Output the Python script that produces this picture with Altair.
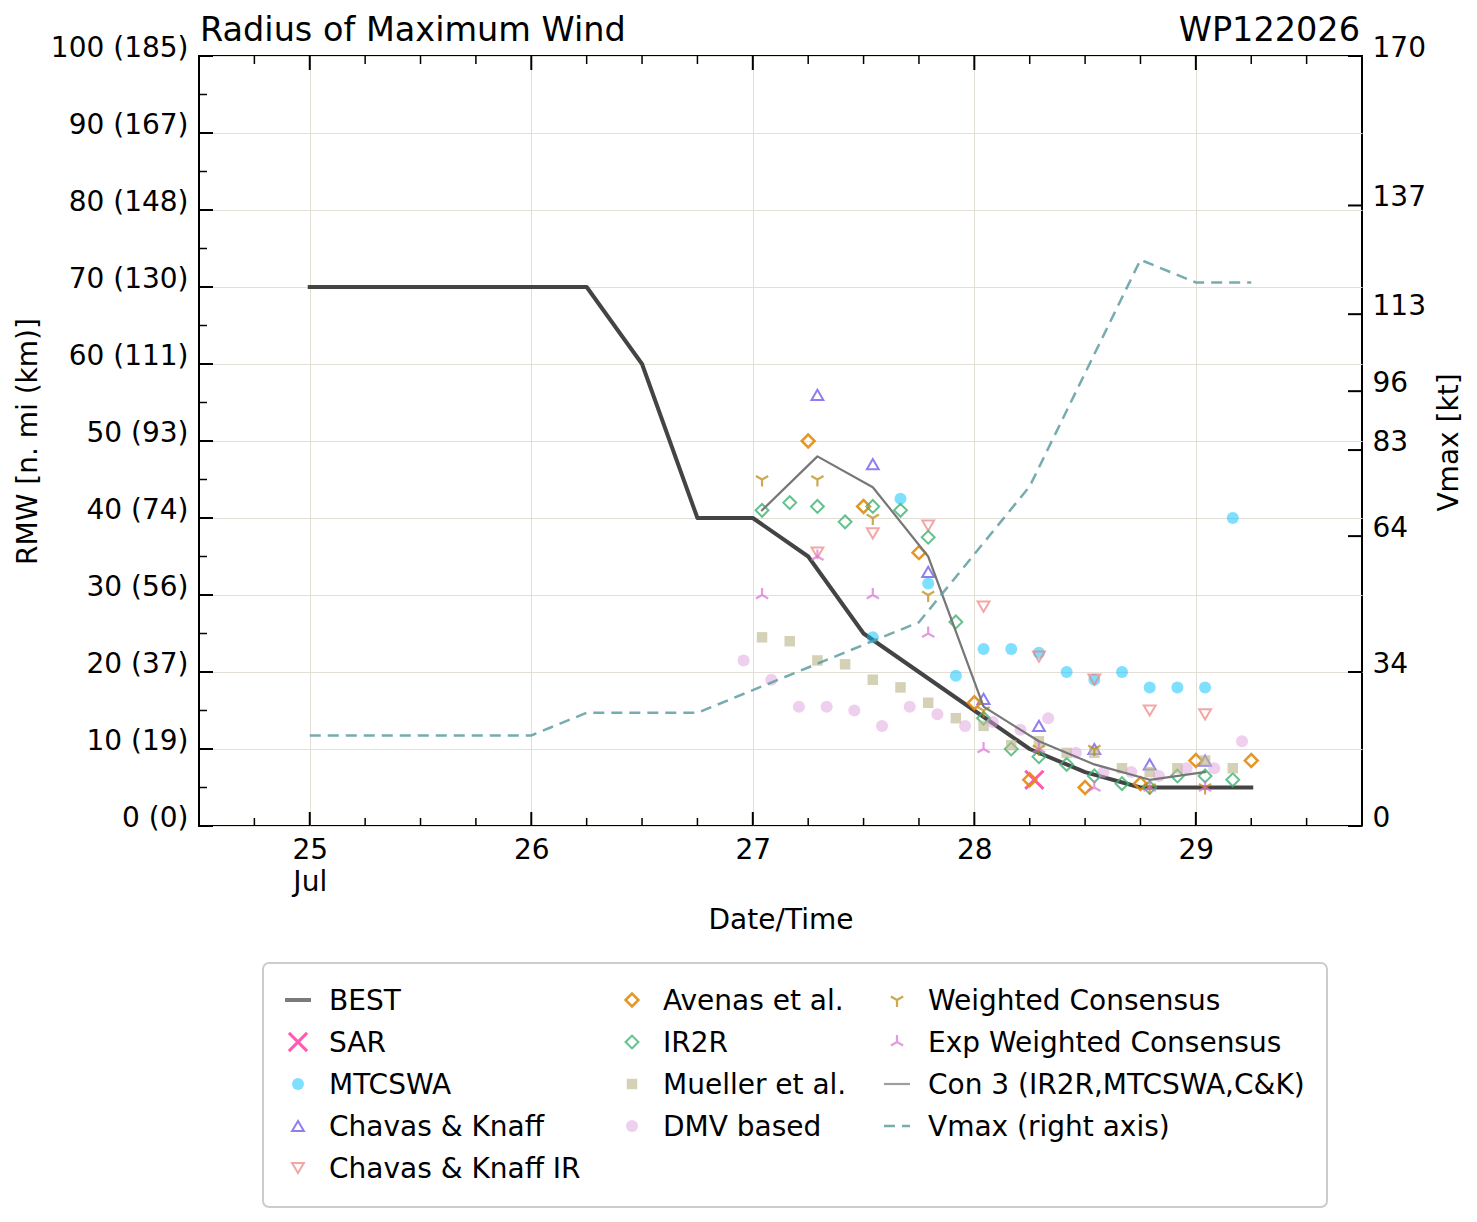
import altair as alt
import pandas as pd

# ---------------------------------------------------------------- text
TITLE = "Radius of Maximum Wind"
STORM_ID = "WP122026"
MONTH = "Jul"
KM_PER_NMI = 1.852

# ---------------------------------------------------------------- data
# Times are "DD/HH" or "DD/HH:MM" (UTC, July); radii in n mi, Vmax in kt.
BEST_TIME = ["25/00", "25/06", "25/12", "25/18", "26/00", "26/06", "26/12", "26/18",
             "27/00", "27/06", "27/12", "27/18", "28/00", "28/06", "28/12", "28/18",
             "29/00", "29/06"]
BEST_RMW = [70, 70, 70, 70, 70, 70, 60, 40, 40, 35, 25, 20, 15, 10, 7, 5, 5, 5]
VMAX_KT = [20, 20, 20, 20, 20, 25, 25, 25, 30, 35, 40, 45, 60, 75, 100, 125, 120, 120]

SAR_TIME = ["28/06:30"]
SAR_RMW = [6]

MTCSWA_TIME = ["27/13", "27/16", "27/19", "27/22", "28/01", "28/04", "28/07", "28/10",
               "28/13", "28/16", "28/19", "28/22", "29/01", "29/04"]
MTCSWA_RMW = [24.5, 42.5, 31.5, 19.5, 23, 23, 22.5, 20, 19, 20, 18, 18, 18, 40]

CK_TIME = ["27/07", "27/13", "27/19", "28/01", "28/07", "28/13", "28/19", "29/01"]
CK_RMW = [56, 47, 33, 16.5, 13, 10, 8, 8.5]
CKIR_RMW = [35.5, 38, 39, 28.5, 22, 19, 15, 14.5]

AVENAS_TIME = ["27/06", "27/12", "27/18", "28/00", "28/06", "28/12", "28/18", "29/00", "29/06"]
AVENAS_RMW = [50, 41.5, 35.5, 16, 6, 5, 5.5, 8.5, 8.5]

IR_TIME = ["27/01", "27/04", "27/07", "27/10", "27/13", "27/16", "27/19", "27/22",
           "28/01", "28/04", "28/07", "28/10", "28/13", "28/16", "28/19", "28/22",
           "29/01", "29/04"]
IR2R_RMW = [41, 42, 41.5, 39.5, 41.5, 41, 37.5, 26.5, 14, 10, 9, 8, 6.5, 5.5, 5, 6.5, 6.5, 6]
MUELLER_RMW = [24.5, 24, 21.5, 21, 19, 18, 16, 14, 13, 10.5, 11, 9.5, 9.5, 7.5, 7, 7.5, 8.5, 7.5]

DMV_TIME = ["26/23", "27/02", "27/05", "27/08", "27/11", "27/14", "27/17", "27/20",
            "27/23", "28/02", "28/05", "28/08", "28/11", "28/14", "28/17", "28/20",
            "28/23", "29/02", "29/05"]
DMV_RMW = [21.5, 19, 15.5, 15.5, 15, 13, 15.5, 14.5, 13, 13.5, 12.5, 14, 9.5, 7, 7,
           6.5, 7.5, 7.5, 11]

CONS_TIME = ["27/01", "27/07", "27/13", "27/19", "28/01", "28/07", "28/13", "28/19", "29/01"]
WC_RMW = [45, 45, 40, 30, 15, 10, 10, 5, 5]
EWC_RMW = [30, 35, 30, 25, 10, 10, 5, 5, 5]
CON3_RMW = [41, 48, 44, 35, 15.5, 11, 8, 6, 7]

# axis ticks
DAY_TICKS = [25, 26, 27, 28, 29]
RMW_TICKS = list(range(0, 101, 10))
RMW_MINOR = list(range(5, 100, 10))
VMAX_TICKS = [0, 34, 64, 83, 96, 113, 137, 170]

X_DOMAIN = [24.5, 29.75]
RMW_DOMAIN = [0, 100]
VMAX_DOMAIN = [0, 170]
QUARTER_TICKS = [X_DOMAIN[0] + 0.25 * k for k in range(22) if (X_DOMAIN[0] + 0.25 * k) % 1]

LEGEND_COLUMNS = [
    ["BEST", "SAR", "MTCSWA", "Chavas & Knaff", "Chavas & Knaff IR"],
    ["Avenas et al.", "IR2R", "Mueller et al.", "DMV based"],
    ["Weighted Consensus", "Exp Weighted Consensus", "Con 3 (IR2R,MTCSWA,C&K)", "Vmax (right axis)"],
]

# ---------------------------------------------------------------- layout / style
W, H = 1163, 770
FONT = "DejaVu Sans"
GRID = "#e3ded6"
FS = 28

TRI_DOWN = "M0,0L0,1M0,0L-0.866,-0.5M0,0L0.866,-0.5"
TRI_UP = "M0,0L0,-1M0,0L-0.866,0.5M0,0L0.866,0.5"
CROSS_X = "M-1,-1L1,1M-1,1L1,-1"
DASH_LINE = "M-1,0L1,0"

POINT_STYLE = {
    "SAR": dict(shape=CROSS_X, size=330, filled=False, color="#ff1493", strokeWidth=3),
    "MTCSWA": dict(shape="circle", size=145, filled=True, color="#00bfff", opacity=0.5),
    "Chavas & Knaff": dict(shape="triangle-up", size=140, filled=False, color="#7b68ee",
                           strokeWidth=2, opacity=0.85),
    "Chavas & Knaff IR": dict(shape="triangle-down", size=140, filled=False, color="#f08080",
                              strokeWidth=2),
    "Avenas et al.": dict(shape="diamond", size=165, filled=False, color="#e28c10",
                          strokeWidth=2.5, opacity=0.9),
    "IR2R": dict(shape="diamond", size=165, filled=False, color="#3cb371",
                 strokeWidth=2, opacity=0.8),
    "Mueller et al.": dict(shape="square", size=110, filled=True, color="#bdb98f", opacity=0.65),
    "DMV based": dict(shape="circle", size=145, filled=True, color="#dda0dd", opacity=0.5),
    "Weighted Consensus": dict(shape=TRI_DOWN, size=200, filled=False, color="#b8860b",
                               strokeWidth=2.2),
    "Exp Weighted Consensus": dict(shape=TRI_UP, size=200, filled=False, color="#da70d6",
                                   strokeWidth=2.2),
}
LINE_STYLE = {
    "BEST": dict(color="#444444", strokeWidth=4, strokeCap="square", strokeJoin="round"),
    "Con 3 (IR2R,MTCSWA,C&K)": dict(color="#777777", strokeWidth=2.2, strokeCap="square",
                                    strokeJoin="round"),
    "Vmax (right axis)": dict(color="#5f9ea0", strokeWidth=2.5, strokeDash=[11, 7], opacity=0.85),
}


def july_day(stamp):
    day, clock = stamp.split("/")
    hour, _, minute = clock.partition(":")
    return int(day) + (int(hour) + int(minute or 0) / 60) / 24


def frame(times, values, col="r"):
    return pd.DataFrame({"t": [july_day(s) for s in times], col: values})


# ---------------------------------------------------------------- axes
x_axis = alt.Axis(
    values=DAY_TICKS, format="d", title="Date/Time",
    labelExpr=f"datum.value == {DAY_TICKS[0]} ? [datum.label, '{MONTH}'] : datum.label",
    ticks=False, domain=False, grid=True, gridColor=GRID, gridWidth=1,
    labelPadding=10, labelBaseline="top", labelLineHeight=32, labelFlush=False,
    labelOverlap=False, titleY=102, titleBaseline="alphabetic",
)
rmw_axis = alt.Axis(
    values=RMW_TICKS, title="RMW [n. mi (km)]",
    labelExpr=f"datum.value + ' (' + round(datum.value * {KM_PER_NMI}) + ')'",
    ticks=False, domain=False, grid=True, gridColor=GRID, gridWidth=1,
    labelPadding=11, labelBaseline="alphabetic", labelFlush=False, labelOverlap=False,
    titleAngle=270, titleX=-163, titleY=H / 2, titleAlign="center", titleBaseline="alphabetic",
)
vmax_axis = alt.Axis(
    values=VMAX_TICKS, orient="right", title="Vmax [kt]",
    ticks=False, domain=False, grid=False,
    labelPadding=10, labelAlign="left", labelBaseline="alphabetic", labelFlush=False,
    labelOverlap=False,
    titleAngle=270, titleX=95, titleY=H / 2 + 1, titleAlign="center", titleBaseline="alphabetic",
)

X = alt.X("t:Q", scale=alt.Scale(domain=X_DOMAIN, nice=False, zero=False), axis=x_axis)
Y_RMW = alt.Y("r:Q", scale=alt.Scale(domain=RMW_DOMAIN, nice=False, zero=False), axis=rmw_axis)
Y_VMAX = alt.Y("v:Q", scale=alt.Scale(domain=VMAX_DOMAIN, nice=False, zero=False), axis=vmax_axis)

# ---------------------------------------------------------------- RMW panel
POINT_SERIES = [
    ("SAR", SAR_TIME, SAR_RMW),
    ("MTCSWA", MTCSWA_TIME, MTCSWA_RMW),
    ("Chavas & Knaff", CK_TIME, CK_RMW),
    ("Chavas & Knaff IR", CK_TIME, CKIR_RMW),
    ("Avenas et al.", AVENAS_TIME, AVENAS_RMW),
    ("IR2R", IR_TIME, IR2R_RMW),
    ("Mueller et al.", IR_TIME, MUELLER_RMW),
    ("DMV based", DMV_TIME, DMV_RMW),
    ("Weighted Consensus", CONS_TIME, WC_RMW),
    ("Exp Weighted Consensus", CONS_TIME, EWC_RMW),
]

best = alt.Chart(frame(BEST_TIME, BEST_RMW)).mark_line(**LINE_STYLE["BEST"]).encode(x=X, y=Y_RMW)
points = [
    alt.Chart(frame(times, vals)).mark_point(**POINT_STYLE[name]).encode(x=X, y=Y_RMW)
    for name, times, vals in POINT_SERIES
]
con3 = (alt.Chart(frame(CONS_TIME, CON3_RMW))
        .mark_line(**LINE_STYLE["Con 3 (IR2R,MTCSWA,C&K)"]).encode(x=X, y=Y_RMW))


def x_ticks(values, length, width):
    base = alt.Chart(pd.DataFrame({"t": values})).mark_rule(color="black", strokeWidth=width)
    return [base.encode(x=X, y=alt.value(H), y2=alt.value(H - length)),
            base.encode(x=X, y=alt.value(0), y2=alt.value(length))]


def rmw_ticks(values, length, width):
    return (alt.Chart(pd.DataFrame({"r": values}))
            .mark_rule(color="black", strokeWidth=width)
            .encode(y=Y_RMW, x=alt.value(0), x2=alt.value(length)))


tick_layers = (x_ticks(DAY_TICKS, 14, 2) + x_ticks(QUARTER_TICKS, 8, 1.5)
               + [rmw_ticks(RMW_TICKS, 14, 2), rmw_ticks(RMW_MINOR, 8, 1.5)])

rmw_panel = alt.layer(best, *points, con3, *tick_layers)

# ---------------------------------------------------------------- Vmax panel
vmax_line = (alt.Chart(frame(BEST_TIME, VMAX_KT, "v"))
             .mark_line(**LINE_STYLE["Vmax (right axis)"]).encode(x=X, y=Y_VMAX))
vmax_ticks = (alt.Chart(pd.DataFrame({"v": VMAX_TICKS}))
              .mark_rule(color="black", strokeWidth=2)
              .encode(y=Y_VMAX, x=alt.value(W - 14), x2=alt.value(W)))
vmax_panel = alt.layer(vmax_line, vmax_ticks)

main = alt.layer(rmw_panel, vmax_panel).resolve_scale(y="independent")

# ---------------------------------------------------------------- legend + headings
LX = alt.X("lx:Q", scale=alt.Scale(domain=[0, 1, 2], range=[99, 433, 698], nice=False, zero=False),
           axis=None)
LY = alt.Y("ly:Q", scale=alt.Scale(domain=[0, 4], range=[944, 1112], nice=False, zero=False),
           axis=None)

entries = pd.DataFrame(
    [{"lx": c, "ly": r, "label": name}
     for c, column in enumerate(LEGEND_COLUMNS) for r, name in enumerate(column)]
)

one = pd.DataFrame({"k": [0]})
legend_box = alt.Chart(one).mark_rect(
    fill="white", stroke="#cccccc", strokeWidth=2, cornerRadius=6
).encode(x=alt.value(64), x2=alt.value(1128), y=alt.value(907), y2=alt.value(1151))

symbols = []
for _, row in entries.iterrows():
    df = pd.DataFrame([row])
    name = row["label"]
    if name in POINT_STYLE:
        mark = alt.Chart(df).mark_point(**POINT_STYLE[name])
    else:
        style = {k: v for k, v in LINE_STYLE[name].items() if k not in ("strokeJoin",)}
        style["strokeCap"] = "butt"
        mark = alt.Chart(df).mark_point(shape=DASH_LINE, size=26 ** 2, filled=False, **style)
    symbols.append(mark.encode(x=LX, y=LY))

labels = alt.Chart(entries).mark_text(
    align="left", baseline="middle", dx=31, dy=2, font=FONT, fontSize=FS, color="black"
).encode(x=LX, y=LY, text="label:N")

headings = pd.DataFrame({"text": [TITLE, STORM_ID]})
title_text = alt.Chart(headings.iloc[[0]]).mark_text(
    align="left", baseline="alphabetic", font=FONT, fontSize=33.5, color="black"
).encode(x=alt.value(1), y=alt.value(-15), text="text:N")
storm_text = alt.Chart(headings.iloc[[1]]).mark_text(
    align="right", baseline="alphabetic", font=FONT, fontSize=33.5, color="black"
).encode(x=alt.value(W - 2), y=alt.value(-15), text="text:N")

legend = alt.layer(legend_box, *symbols, labels, title_text, storm_text)

chart = (
    alt.layer(main, legend)
    .resolve_scale(x="independent", y="independent")
    .properties(
        width=W, height=H,
        autosize=alt.AutoSizeParams(type="none"),
        padding={"left": 199, "top": 56, "right": 115, "bottom": 396},
        background="white",
    )
    .configure_view(stroke="black", strokeWidth=2)
    .configure_axis(
        labelFont=FONT, labelFontSize=FS, labelColor="black",
        titleFont=FONT, titleFontSize=FS, titleFontWeight="normal", titleColor="black",
    )
    .configure_text(font=FONT)
)

chart.save("out.html", embed_options={"renderer": "svg", "actions": False})
